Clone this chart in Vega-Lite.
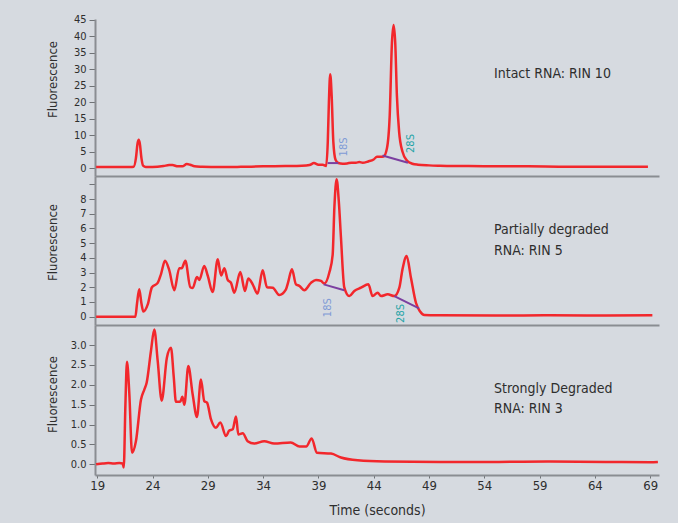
{
  "$schema": "https://vega.github.io/schema/vega-lite/v6.json",
  "background": "#d6dae0",
  "padding": {"left": 45, "top": 13, "right": 20, "bottom": 8},
  "spacing": 0,
  "bounds": "flush",
  "resolve": {"scale": {"x": "independent", "y": "independent", "color": "independent"}, "axis": {"x": "independent", "y": "independent"}},
  "config": {
    "view": {"stroke": null},
    "font": "DejaVu Sans Condensed, Liberation Sans Narrow, Liberation Sans, sans-serif",
    "axis": {
      "grid": false,
      "domainColor": "#8a8d92",
      "domainWidth": 2,
      "tickColor": "#6f7276",
      "tickWidth": 1,
      "tickSize": 6,
      "labelColor": "#2e2e2e",
      "labelFont": "DejaVu Sans Condensed, Liberation Sans Narrow, Liberation Sans, sans-serif",
      "titleFont": "DejaVu Sans Condensed, Liberation Sans Narrow, Liberation Sans, sans-serif",
      "titleColor": "#2e2e2e",
      "titleFontWeight": "normal"
    }
  },
  "datasets": {
    "top": [
      {"t":18.9,"v":0.3},{"t":20,"v":0.3},{"t":21,"v":0.3},{"t":22,"v":0.3},{"t":22.3,"v":0.4},{"t":22.5,"v":3.0},{"t":22.65,"v":7.5},{"t":22.75,"v":8.6},{"t":22.85,"v":7.5},{"t":23.0,"v":3.0},{"t":23.15,"v":0.7},{"t":23.4,"v":0.3},{"t":24.0,"v":0.3},{"t":25.0,"v":0.6},{"t":25.5,"v":0.9},{"t":25.8,"v":0.9},{"t":26.3,"v":0.5},{"t":26.7,"v":0.5},{"t":27.1,"v":1.2},{"t":27.4,"v":1.0},{"t":27.8,"v":0.5},{"t":28.5,"v":0.4},{"t":30,"v":0.3},{"t":32,"v":0.35},{"t":34,"v":0.5},{"t":36,"v":0.6},{"t":37.5,"v":0.7},{"t":38.2,"v":0.9},{"t":38.6,"v":1.5},{"t":39.0,"v":1.0},{"t":39.4,"v":1.0},{"t":39.7,"v":0.6},{"t":39.85,"v":8},{"t":39.95,"v":20},{"t":40.07,"v":28.5},{"t":40.2,"v":22},{"t":40.35,"v":8},{"t":40.55,"v":2.5},{"t":40.8,"v":1.5},{"t":41.2,"v":1.3},{"t":41.6,"v":1.4},{"t":42.0,"v":1.6},{"t":42.4,"v":1.6},{"t":42.7,"v":1.8},{"t":43.0,"v":1.6},{"t":43.5,"v":2.0},{"t":44.0,"v":2.6},{"t":44.3,"v":3.4},{"t":44.6,"v":3.4},{"t":44.9,"v":3.5},{"t":45.2,"v":6},{"t":45.45,"v":16},{"t":45.65,"v":38},{"t":45.8,"v":43.5},{"t":45.95,"v":38},{"t":46.1,"v":22},{"t":46.3,"v":11},{"t":46.6,"v":5},{"t":47.0,"v":2.3},{"t":47.5,"v":1.3},{"t":48.0,"v":1.0},{"t":49,"v":0.8},{"t":50,"v":0.7},{"t":52,"v":0.6},{"t":55,"v":0.5},{"t":58,"v":0.5},{"t":61,"v":0.4},{"t":64,"v":0.4},{"t":67,"v":0.35},{"t":68.8,"v":0.35}
    ],
    "topBase": [
      {"seg":"a","t":39.84,"v":1.5},{"seg":"a","t":40.8,"v":1.5},
      {"seg":"b","t":44.8,"v":3.8},{"seg":"b","t":47.1,"v":1.6}
    ],
    "topPeaks": [
      {"label":"18S","t":41.35,"v":6.4},{"label":"28S","t":47.37,"v":7.45}
    ],
    "topNote": [
      {"label":"Intact RNA: RIN 10","t":54.88,"v":28.6}
    ],
    "mid": [
      {"t":18.9,"v":0},{"t":22.45,"v":0},{"t":22.6,"v":0.9},{"t":22.8,"v":1.86},{"t":23.0,"v":0.9},{"t":23.17,"v":0.35},{"t":23.57,"v":0.84},{"t":23.95,"v":2.0},{"t":24.47,"v":2.3},{"t":24.77,"v":2.9},{"t":25.13,"v":3.8},{"t":25.5,"v":3.2},{"t":25.97,"v":1.8},{"t":26.42,"v":3.3},{"t":26.64,"v":3.3},{"t":26.97,"v":3.8},{"t":27.42,"v":2.0},{"t":27.63,"v":1.95},{"t":28.02,"v":2.7},{"t":28.23,"v":2.5},{"t":28.68,"v":3.45},{"t":28.99,"v":2.8},{"t":29.44,"v":1.68},{"t":29.9,"v":3.9},{"t":30.2,"v":2.8},{"t":30.5,"v":3.3},{"t":30.8,"v":2.5},{"t":31.1,"v":2.3},{"t":31.4,"v":1.63},{"t":31.94,"v":3.04},{"t":32.36,"v":1.75},{"t":32.66,"v":2.6},{"t":33.06,"v":2.2},{"t":33.5,"v":1.57},{"t":33.96,"v":3.15},{"t":34.35,"v":2.0},{"t":34.87,"v":1.97},{"t":35.46,"v":1.48},{"t":36.07,"v":1.86},{"t":36.25,"v":2.3},{"t":36.61,"v":3.22},{"t":36.97,"v":2.2},{"t":37.27,"v":2.1},{"t":37.73,"v":1.8},{"t":38.33,"v":2.3},{"t":38.78,"v":2.5},{"t":39.24,"v":2.43},{"t":39.53,"v":2.25},{"t":39.99,"v":3.0},{"t":40.29,"v":4.2},{"t":40.45,"v":7.5},{"t":40.65,"v":9.35},{"t":40.85,"v":7.8},{"t":41.04,"v":5.4},{"t":41.34,"v":2.0},{"t":41.8,"v":1.4},{"t":42.25,"v":1.75},{"t":42.85,"v":1.97},{"t":43.52,"v":2.2},{"t":43.9,"v":1.4},{"t":44.36,"v":1.63},{"t":44.66,"v":1.4},{"t":45.27,"v":1.52},{"t":45.87,"v":1.4},{"t":46.32,"v":1.97},{"t":46.6,"v":3.2},{"t":46.98,"v":4.13},{"t":47.37,"v":2.65},{"t":47.82,"v":0.95},{"t":48.2,"v":0.35},{"t":48.58,"v":0.12},{"t":50,"v":0.1},{"t":55,"v":0.08},{"t":60,"v":0.1},{"t":65,"v":0.08},{"t":69.2,"v":0.1}
    ],
    "midBase": [
      {"seg":"a","t":39.48,"v":2.2},{"seg":"a","t":41.34,"v":1.8},
      {"seg":"b","t":45.87,"v":1.4},{"seg":"b","t":48.1,"v":0.57}
    ],
    "midPeaks": [
      {"label":"18S","t":39.9,"v":0.61},{"label":"28S","t":46.47,"v":0.22}
    ],
    "midNote": [
      {"label":"Partially degraded","t":54.88,"v":5.89},
      {"label":"RNA: RIN 5","t":54.88,"v":4.47}
    ],
    "bot": [
      {"t":18.9,"v":0.0},{"t":19.5,"v":0.02},{"t":20,"v":0.03},{"t":20.5,"v":0.02},{"t":21.0,"v":0.03},{"t":21.3,"v":0.02},{"t":21.4,"v":-0.08},{"t":21.55,"v":1.5},{"t":21.69,"v":2.58},{"t":21.9,"v":1.8},{"t":22.15,"v":0.29},{"t":22.5,"v":0.58},{"t":22.96,"v":1.63},{"t":23.26,"v":1.88},{"t":23.47,"v":2.05},{"t":23.86,"v":2.85},{"t":24.16,"v":3.39},{"t":24.47,"v":2.6},{"t":24.83,"v":1.6},{"t":25.3,"v":2.68},{"t":25.67,"v":2.93},{"t":25.92,"v":2.2},{"t":26.12,"v":1.57},{"t":26.5,"v":1.57},{"t":26.7,"v":1.7},{"t":26.88,"v":1.5},{"t":27.24,"v":2.47},{"t":27.63,"v":1.76},{"t":28.02,"v":1.19},{"t":28.38,"v":2.13},{"t":28.68,"v":1.59},{"t":28.93,"v":1.55},{"t":29.29,"v":1.13},{"t":29.74,"v":0.92},{"t":30.13,"v":1.05},{"t":30.65,"v":0.71},{"t":30.94,"v":0.85},{"t":31.25,"v":0.88},{"t":31.55,"v":1.2},{"t":31.76,"v":0.75},{"t":32.16,"v":0.78},{"t":32.6,"v":0.58},{"t":33.2,"v":0.52},{"t":34.1,"v":0.58},{"t":35.0,"v":0.52},{"t":36.5,"v":0.55},{"t":37.3,"v":0.45},{"t":37.9,"v":0.45},{"t":38.39,"v":0.65},{"t":38.87,"v":0.29},{"t":40.14,"v":0.27},{"t":41.04,"v":0.17},{"t":42.55,"v":0.1},{"t":45,"v":0.07},{"t":50,"v":0.06},{"t":55,"v":0.06},{"t":60,"v":0.07},{"t":65,"v":0.06},{"t":69,"v":0.05},{"t":69.7,"v":0.06}
    ],
    "botNote": [
      {"label":"Strongly Degraded","t":54.88,"v":1.886},
      {"label":"RNA: RIN 3","t":54.88,"v":1.383}
    ]
  },
  "vconcat": [
    {
      "width": 564,
      "height": 157,
      "encoding": {
        "x": {"field":"t","type":"quantitative","scale":{"domain":[18.8,69.8],"nice":false,"zero":false},"axis":{"title":null,"labels":false,"ticks":false,"domain":true}},
        "y": {"field":"v","type":"quantitative","scale":{"domain":[-2.43,45.3],"nice":false,"zero":false},"axis":{"title":"Fluorescence","values":[0,5,10,15,20,25,30,35,40,45],"labelFontSize":11,"labelPadding":3,"titleFontSize":13,"titleX":-43,"titleY":60,"titleBaseline":"middle","titleAngle":-90}}
      },
      "layer": [
        {"data":{"name":"top"},"mark":{"type":"line","color":"#f2272c","strokeWidth":2.5,"interpolate":"monotone"}},
        {"data":{"name":"topBase"},"mark":{"type":"line","color":"#7b3fa0","strokeWidth":2},"encoding":{"detail":{"field":"seg"}}},
        {"data":{"name":"topPeaks"},"mark":{"type":"text","angle":270,"fontSize":11,"align":"center","baseline":"middle"},"encoding":{"text":{"field":"label"},"color":{"field":"label","type":"nominal","scale":{"domain":["18S","28S"],"range":["#7f9bd6","#1fa3a6"]},"legend":null}}},
        {"data":{"name":"topNote"},"mark":{"type":"text","align":"left","baseline":"middle","fontSize":14,"color":"#2e2e2e"},"encoding":{"text":{"field":"label"}}}
      ]
    },
    {
      "width": 564,
      "height": 149,
      "encoding": {
        "x": {"field":"t","type":"quantitative","scale":{"domain":[18.8,69.8],"nice":false,"zero":false},"axis":{"title":null,"labels":false,"ticks":false,"domain":true}},
        "y": {"field":"v","type":"quantitative","scale":{"domain":[-0.564,9.565],"nice":false,"zero":false},"axis":{"title":"Fluorescence","values":[0,1,2,3,4,5,6,7,8,9],"labelExpr":"datum.value == 9 ? '' : datum.label","labelFontSize":11,"labelPadding":3,"titleFontSize":13,"titleX":-43,"titleY":66,"titleBaseline":"middle","titleAngle":-90}}
      },
      "layer": [
        {"data":{"name":"mid"},"mark":{"type":"line","color":"#f2272c","strokeWidth":2.5,"interpolate":"monotone"}},
        {"data":{"name":"midBase"},"mark":{"type":"line","color":"#7b3fa0","strokeWidth":2},"encoding":{"detail":{"field":"seg"}}},
        {"data":{"name":"midPeaks"},"mark":{"type":"text","angle":270,"fontSize":11,"align":"center","baseline":"middle"},"encoding":{"text":{"field":"label"},"color":{"field":"label","type":"nominal","scale":{"domain":["18S","28S"],"range":["#7f9bd6","#1fa3a6"]},"legend":null}}},
        {"data":{"name":"midNote"},"mark":{"type":"text","align":"left","baseline":"middle","fontSize":14,"color":"#2e2e2e"},"encoding":{"text":{"field":"label"}}}
      ]
    },
    {
      "width": 564,
      "height": 150,
      "encoding": {
        "x": {"field":"t","type":"quantitative","scale":{"domain":[18.8,69.8],"nice":false,"zero":false},"axis":{"title":"Time (seconds)","values":[19,24,29,34,39,44,49,54,59,64,69],"labelFontSize":13,"labelPadding":1,"tickSize":3,"titleFontSize":14,"titlePadding":11}},
        "y": {"field":"v","type":"quantitative","scale":{"domain":[-0.269,3.503],"nice":false,"zero":false},"axis":{"title":"Fluorescence","values":[0,0.5,1,1.5,2,2.5,3],"format":".1f","labelFontSize":11,"labelPadding":3,"titleFontSize":13,"titleX":-43,"titleY":69,"titleBaseline":"middle","titleAngle":-90}}
      },
      "layer": [
        {"data":{"name":"bot"},"mark":{"type":"line","color":"#f2272c","strokeWidth":2.5,"interpolate":"monotone"}},
        {"data":{"name":"botNote"},"mark":{"type":"text","align":"left","baseline":"middle","fontSize":14,"color":"#2e2e2e"},"encoding":{"text":{"field":"label"}}}
      ]
    }
  ]
}
